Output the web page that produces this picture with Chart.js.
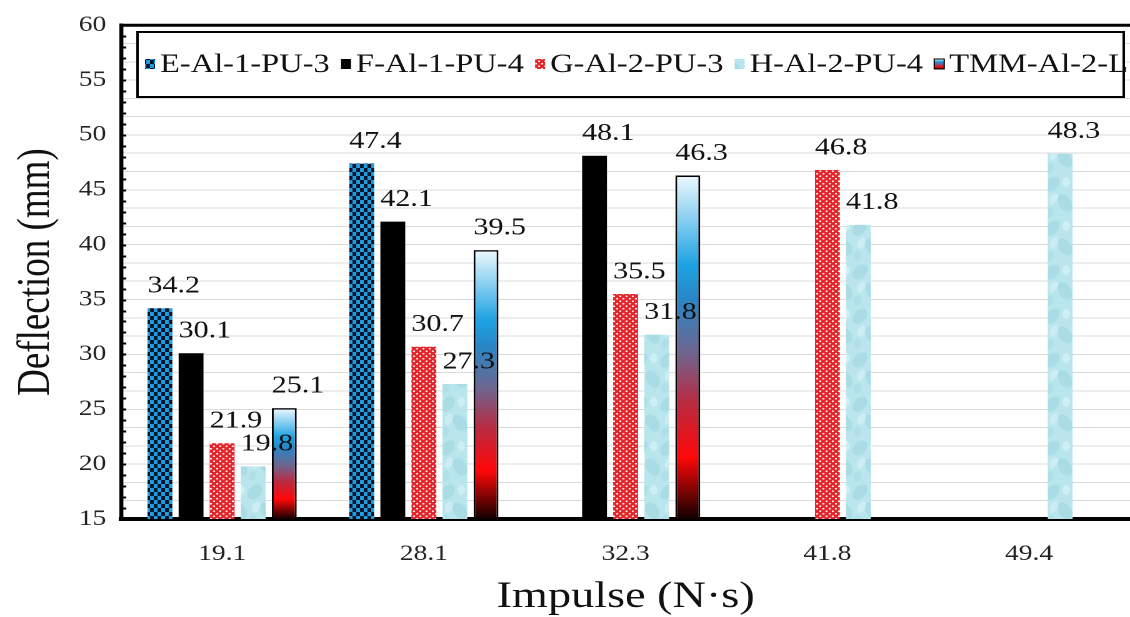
<!DOCTYPE html>
<html>
<head>
<meta charset="utf-8">
<title>Deflection vs Impulse</title>
<script src="https://cdn.jsdelivr.net/npm/chart.js@4.4.0/dist/chart.umd.min.js"></script>
<style>
    html, body { margin: 0; padding: 0; background: #fff; overflow: hidden; }
    /* the original figure is stretched sideways, so the chart is too */
    #wrap { width: 904px; height: 617px; transform: scaleX(1.25); transform-origin: 0 0; }
</style>
</head>
<body>
<div id="wrap"><canvas id="chart"></canvas></div>
<script>
// Chart data
const impulses = ['19.1', '28.1', '32.3', '41.8', '49.4'];
const seriesNames = ['E-Al-1-PU-3', 'F-Al-1-PU-4', 'G-Al-2-PU-3', 'H-Al-2-PU-4', 'TMM-Al-2-L'];
const eValues = [34.2, 47.4, null, null, null];
const fValues = [30.1, 42.1, 48.1, null, null];
const gValues = [21.9, 30.7, 35.5, 46.8, null];
const hValues = [19.8, 27.3, 31.8, 41.8, 48.3];
const tmmValues = [25.1, 39.5, 46.3, null, null];
const yTicks = [15, 20, 25, 30, 35, 40, 45, 50, 55, 60];

const SERIF = '"Liberation Serif", "Times New Roman", serif';

// Build a pattern from a small tile drawn at 2x
function makePattern(w, h, draw) {
    const tile = document.createElement('canvas');
    tile.width = w * 2;
    tile.height = h * 2;
    const tctx = tile.getContext('2d');
    tctx.scale(2, 2);
    draw(tctx, w, h);
    const pattern = tctx.createPattern(tile, 'repeat');
    pattern.setTransform(new DOMMatrix().scale(0.5));
    return pattern;
}

const checkerFill = makePattern(6, 8, function(c, w, h) {
    c.fillStyle = '#07142c';
    c.fillRect(0, 0, w, h);
    c.fillStyle = '#1c9fe2';
    c.fillRect(0, 0, w / 2, h / 2);
    c.fillRect(w / 2, h / 2, w / 2, h / 2);
});

const dotFill = makePattern(5, 5, function(c, w, h) {
    c.fillStyle = '#e3252b';
    c.fillRect(0, 0, w, h);
    c.fillStyle = '#fff4f0';
    c.beginPath();
    c.arc(1.25, 1.25, 0.9, 0, Math.PI * 2);
    c.arc(3.75, 3.75, 0.9, 0, Math.PI * 2);
    c.fill();
});

// soft watery texture for the H series
const aquaFill = makePattern(22, 44, function(c, w, h) {
    c.fillStyle = '#b9e5ed';
    c.fillRect(0, 0, w, h);
    const blobs = [
        [6, 8, 5, 8, 0.5, 'rgba(130, 196, 210, 0.28)'],
        [16, 27, 5, 9, -0.4, 'rgba(130, 196, 210, 0.28)'],
        [4, 36, 3, 5, 0.2, 'rgba(150, 205, 216, 0.22)'],
        [17, 6, 3, 5, 0, 'rgba(232, 250, 252, 0.45)'],
        [7, 23, 3, 6, 0.3, 'rgba(232, 250, 252, 0.4)']
    ];
    blobs.forEach(function(b) {
        c.fillStyle = b[5];
        c.beginPath();
        c.ellipse(b[0], b[1], b[2], b[3], b[4], 0, Math.PI * 2);
        c.fill();
    });
});

function addTmmStops(g) {
    g.addColorStop(0, '#eef9fd');
    g.addColorStop(0.26, '#1ea3e3');
    g.addColorStop(0.36, '#2a86c6');
    g.addColorStop(0.52, '#71648e');
    g.addColorStop(0.66, '#b92b42');
    g.addColorStop(0.82, '#ff0808');
    g.addColorStop(1, '#120000');
    return g;
}

// TMM bars: each bar gets its own top-to-bottom gradient
function tmmFill(context) {
    const chart = context.chart;
    const yScale = chart.scales.y;
    if (!yScale || !chart.chartArea || context.type !== 'data' || context.raw == null) return '#1ea3e3';
    const top = yScale.getPixelForValue(context.raw);
    const bottom = yScale.getPixelForValue(yScale.min);
    if (!isFinite(top) || !isFinite(bottom) || top === bottom) return '#1ea3e3';
    return addTmmStops(chart.ctx.createLinearGradient(0, top, 0, bottom));
}

const seriesFills = [checkerFill, '#000000', dotFill, aquaFill, tmmFill];
const seriesValues = [eValues, fValues, gValues, hValues, tmmValues];

// Value labels above the bars
const valueLabels = {
    id: 'valueLabels',
    afterDatasetsDraw(chart) {
        const ctx = chart.ctx;
        ctx.save();
        ctx.font = '24px ' + SERIF;
        ctx.fillStyle = '#111';
        ctx.textAlign = 'center';
        ctx.textBaseline = 'middle';
        chart.data.datasets.forEach(function(ds, i) {
            const meta = chart.getDatasetMeta(i);
            meta.data.forEach(function(bar, j) {
                const v = ds.data[j];
                if (v == null) return;
                ctx.fillText(v.toFixed(1), bar.x + 11, bar.y - 22);
            });
        });
        ctx.restore();
    }
};

// Top frame line, inner minor ticks and the boxed legend
const frameAndLegend = {
    id: 'frameAndLegend',
    afterDraw(chart) {
        const ctx = chart.ctx;
        const area = chart.chartArea;
        const yScale = chart.scales.y;
        ctx.save();

        // top border
        ctx.strokeStyle = '#000';
        ctx.lineWidth = 3;
        ctx.beginPath();
        ctx.moveTo(area.left - 1.5, area.top);
        ctx.lineTo(area.right, area.top);
        ctx.stroke();

        // minor ticks on the left axis, pointing in
        ctx.lineWidth = 2;
        for (let v = yScale.min + 1; v < yScale.max; v++) {
            const py = Math.round(yScale.getPixelForValue(v)) + 0.5;
            ctx.beginPath();
            ctx.moveTo(area.left, py);
            ctx.lineTo(area.left + 4, py);
            ctx.stroke();
        }

        // legend box
        const box = { left: 110, right: 899, top: 32, bottom: 97 };
        ctx.fillStyle = '#fff';
        ctx.fillRect(box.left, box.top, box.right - box.left, box.bottom - box.top);
        ctx.lineWidth = 2;
        ctx.strokeRect(box.left, box.top, box.right - box.left, box.bottom - box.top);

        ctx.font = '26px ' + SERIF;
        ctx.textBaseline = 'middle';
        ctx.textAlign = 'left';
        const midY = 64;
        let x = 116;
        chart.data.datasets.forEach(function(ds, i) {
            const mw = 8, mh = 10;
            const my = midY - mh / 2;
            if (i === 4) {
                ctx.fillStyle = addTmmStops(ctx.createLinearGradient(0, my, 0, my + mh));
            } else {
                ctx.fillStyle = seriesFills[i];
            }
            ctx.fillRect(x, my, mw, mh);
            if (i === 4) {
                ctx.lineWidth = 1;
                ctx.strokeStyle = '#000';
                ctx.strokeRect(x, my, mw, mh);
            }
            x += mw + 4;
            ctx.fillStyle = '#111';
            ctx.fillText(ds.label, x, midY + 1);
            x += ctx.measureText(ds.label).width + 9;
        });
        ctx.restore();
    }
};

document.addEventListener('DOMContentLoaded', function() {
    const datasets = seriesNames.map(function(name, i) {
        return {
            label: name,
            data: seriesValues[i],
            backgroundColor: seriesFills[i],
            borderColor: '#000',
            borderWidth: i === 4 ? 1.5 : 0,
            categoryPercentage: 0.77,
            barPercentage: 0.8
        };
    });

    new Chart(document.getElementById('chart'), {
        type: 'bar',
        data: { labels: impulses, datasets: datasets },
        options: {
            responsive: true,
            maintainAspectRatio: false,
            animation: false,
            devicePixelRatio: 2,
            events: [],
            layout: { padding: { top: 24, right: 0, left: 0, bottom: 0 } },
            plugins: {
                legend: { display: false },
                tooltip: { enabled: false }
            },
            scales: {
                x: {
                    grid: { display: false, drawTicks: false },
                    border: { display: true, color: '#000', width: 4 },
                    ticks: { color: '#222', padding: 22, font: { family: SERIF, size: 22 } },
                    title: {
                        display: true,
                        text: 'Impulse (N·s)',
                        color: '#111',
                        padding: { top: 0, bottom: 1 },
                        font: { family: SERIF, size: 37, lineHeight: 1 }
                    },
                    afterFit: function(scale) { scale.height = 98; }
                },
                y: {
                    min: 15,
                    max: 60,
                    grid: { color: '#dadada', lineWidth: 1, drawTicks: false },
                    border: { display: true, color: '#000', width: 3.2 },
                    afterBuildTicks: function(scale) {
                        // light grid every third of a major step
                        const ticks = [];
                        for (let i = 0; i <= 27; i++) ticks.push({ value: 15 + i * 5 / 3 });
                        scale.ticks = ticks;
                    },
                    ticks: {
                        autoSkip: false,
                        color: '#222',
                        padding: 12,
                        font: { family: SERIF, size: 22 },
                        callback: function(v) {
                            const r = Math.round(v * 100) / 100;
                            return yTicks.includes(r) ? String(r) : '';
                        }
                    },
                    title: {
                        display: true,
                        text: 'Deflection (mm)',
                        color: '#111',
                        padding: { top: 11, bottom: 0 },
                        font: { family: SERIF, size: 37, lineHeight: 1 }
                    },
                    afterFit: function(scale) { scale.width = 97; }
                }
            }
        },
        plugins: [valueLabels, frameAndLegend]
    });
});
</script>
</body>
</html>
